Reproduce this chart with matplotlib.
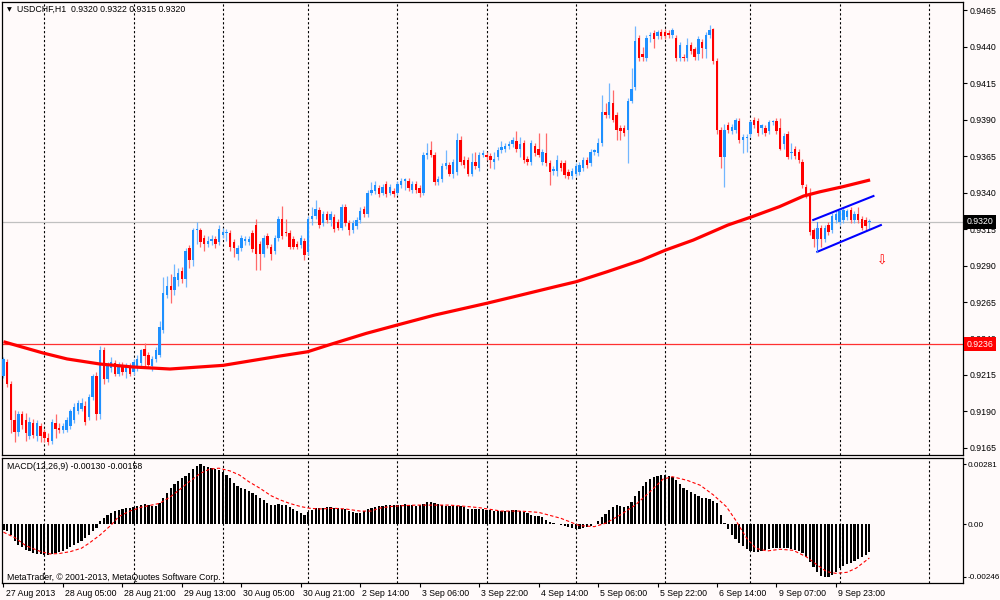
import matplotlib
matplotlib.use("Agg")
import matplotlib.pyplot as plt
import numpy as np
from matplotlib.transforms import ScaledTranslation, blended_transform_factory

plt.rcParams['font.family'] = ['Liberation Sans', 'DejaVu Sans']
plt.rcParams['font.size'] = 6.3

symbol = "USDCHF,H1"

# hourly candles, prices in pips (x 0.0001)
opens = [
    9214, 9224, 9209, 9184, 9176, 9188, 9184, 9173, 9182, 9173,
    9180, 9176, 9172, 9170, 9182, 9179, 9177, 9177, 9180, 9184,
    9190, 9192, 9194, 9186, 9200, 9214, 9188, 9232, 9212, 9220,
    9223, 9216, 9222, 9217, 9221, 9217, 9220, 9223, 9233, 9229,
    9221, 9226, 9229, 9246, 9270, 9276, 9273, 9280, 9286, 9281,
    9302, 9294, 9314, 9314, 9309, 9305, 9307, 9308, 9306, 9311,
    9312, 9312, 9306, 9298, 9302, 9307, 9306, 9312, 9318, 9305,
    9298, 9310, 9303, 9300, 9309, 9322, 9313, 9312, 9308, 9305,
    9304, 9307, 9299, 9322, 9324, 9328, 9319, 9325, 9321, 9323,
    9320, 9316, 9330, 9319, 9314, 9317, 9321, 9329, 9325, 9340,
    9341, 9343, 9340, 9346, 9340, 9341, 9340, 9345, 9348, 9348,
    9342, 9346, 9343, 9340, 9366, 9369, 9366, 9347, 9349, 9358,
    9359, 9353, 9354, 9376, 9362, 9362, 9353, 9361, 9357, 9366,
    9366, 9365, 9361, 9364, 9369, 9370, 9372, 9373, 9375, 9370,
    9374, 9363, 9361, 9372, 9370, 9361, 9367, 9360, 9355, 9355,
    9360, 9360, 9354, 9351, 9353, 9354, 9357, 9362, 9360, 9368,
    9367, 9374, 9395, 9393, 9401, 9393, 9384, 9384, 9383, 9403,
    9412, 9446, 9435, 9432, 9447, 9449, 9447, 9450, 9450, 9449,
    9448, 9446, 9432, 9433, 9432, 9441, 9438, 9435, 9443, 9438,
    9448, 9452, 9430, 9383, 9364, 9386, 9382, 9383, 9389, 9376,
    9377, 9380, 9390, 9389, 9384, 9384, 9382, 9388, 9389, 9384,
    9373, 9380, 9367, 9370, 9368, 9361, 9344, 9339, 9314, 9308,
    9316, 9308, 9318, 9314, 9321, 9320, 9321, 9323, 9328, 9321,
    9325, 9322, 9321, 9320,
]
closes = [
    9226, 9209, 9184, 9176, 9188, 9181, 9175, 9183, 9174, 9182,
    9173, 9172, 9169, 9183, 9178, 9177, 9180, 9184, 9190, 9193,
    9196, 9196, 9183, 9200, 9214, 9188, 9232, 9212, 9222, 9224,
    9216, 9222, 9217, 9221, 9216, 9224, 9226, 9232, 9228, 9222,
    9226, 9232, 9248, 9271, 9276, 9273, 9282, 9285, 9281, 9300,
    9294, 9314, 9315, 9306, 9305, 9307, 9308, 9305, 9315, 9313,
    9313, 9303, 9302, 9302, 9309, 9308, 9308, 9301, 9298, 9298,
    9309, 9304, 9298, 9309, 9322, 9310, 9312, 9303, 9303, 9303,
    9309, 9297, 9322, 9324, 9329, 9318, 9325, 9321, 9325, 9315,
    9316, 9330, 9319, 9314, 9319, 9321, 9327, 9325, 9340, 9342,
    9345, 9339, 9344, 9339, 9344, 9339, 9346, 9348, 9349, 9343,
    9346, 9342, 9340, 9366, 9367, 9366, 9347, 9349, 9358, 9360,
    9353, 9361, 9376, 9361, 9359, 9353, 9361, 9358, 9366, 9367,
    9364, 9362, 9363, 9369, 9371, 9372, 9373, 9376, 9370, 9373,
    9362, 9361, 9374, 9367, 9366, 9368, 9360, 9354, 9356, 9362,
    9357, 9352, 9351, 9355, 9358, 9359, 9362, 9359, 9368, 9369,
    9374, 9395, 9393, 9402, 9390, 9383, 9382, 9381, 9403, 9411,
    9444, 9432, 9433, 9446, 9448, 9445, 9450, 9447, 9447, 9448,
    9451, 9432, 9441, 9432, 9441, 9437, 9433, 9445, 9439, 9448,
    9451, 9430, 9383, 9364, 9383, 9383, 9385, 9390, 9376, 9378,
    9378, 9388, 9386, 9381, 9386, 9381, 9388, 9389, 9382, 9370,
    9379, 9364, 9368, 9365, 9362, 9345, 9338, 9313, 9308, 9316,
    9308, 9316, 9313, 9324, 9325, 9327, 9328, 9327, 9321, 9325,
    9321, 9316, 9317, 9320,
]
highs = [
    9227, 9226, 9211, 9191, 9190, 9190, 9189, 9186, 9185, 9184,
    9182, 9178, 9175, 9185, 9188, 9182, 9182, 9186, 9192, 9196,
    9198, 9199, 9197, 9202, 9216, 9217, 9235, 9234, 9224, 9227,
    9225, 9224, 9224, 9223, 9223, 9226, 9229, 9233, 9237, 9231,
    9228, 9234, 9252, 9282, 9283, 9284, 9291, 9288, 9289, 9302,
    9304, 9316, 9320, 9316, 9311, 9310, 9311, 9310, 9318, 9316,
    9315, 9314, 9308, 9304, 9311, 9310, 9310, 9314, 9322, 9307,
    9311, 9312, 9305, 9311, 9324, 9331, 9322, 9314, 9310, 9307,
    9311, 9309, 9324, 9330, 9335, 9330, 9327, 9327, 9327, 9325,
    9322, 9332, 9332, 9321, 9321, 9323, 9330, 9331, 9342, 9347,
    9348, 9345, 9346, 9348, 9346, 9343, 9348, 9350, 9350, 9350,
    9348, 9348, 9345, 9368, 9374, 9375, 9368, 9351, 9360, 9369,
    9361, 9363, 9381, 9379, 9365, 9364, 9367, 9368, 9368, 9369,
    9368, 9367, 9368, 9371, 9375, 9374, 9375, 9378, 9382, 9378,
    9376, 9365, 9376, 9374, 9381, 9370, 9381, 9362, 9358, 9366,
    9362, 9362, 9356, 9357, 9360, 9361, 9364, 9364, 9370, 9370,
    9377, 9407, 9401, 9415, 9410, 9395, 9386, 9386, 9405, 9425,
    9454, 9448, 9440, 9448, 9450, 9451, 9451, 9452, 9452, 9451,
    9453, 9448, 9443, 9435, 9446, 9443, 9440, 9447, 9445, 9450,
    9455, 9453, 9432, 9385, 9387, 9388, 9387, 9391, 9391, 9380,
    9380, 9390, 9392, 9391, 9387, 9386, 9390, 9390, 9391, 9391,
    9381, 9382, 9374, 9372, 9370, 9363, 9346, 9343, 9316, 9318,
    9318, 9318, 9320, 9326, 9327, 9329, 9330, 9329, 9330, 9327,
    9330, 9324, 9323, 9322,
]
lows = [
    9213, 9207, 9175, 9169, 9173, 9178, 9170, 9171, 9172, 9170,
    9169, 9169, 9167, 9168, 9172, 9175, 9175, 9176, 9178, 9182,
    9188, 9190, 9181, 9184, 9198, 9184, 9185, 9209, 9210, 9217,
    9214, 9214, 9215, 9213, 9214, 9215, 9218, 9221, 9220, 9220,
    9218, 9224, 9227, 9244, 9268, 9264, 9270, 9276, 9278, 9275,
    9288, 9290, 9305, 9303, 9300, 9303, 9304, 9302, 9304, 9309,
    9307, 9300, 9296, 9294, 9300, 9304, 9304, 9299, 9287, 9287,
    9296, 9302, 9294, 9298, 9307, 9308, 9310, 9301, 9301, 9301,
    9302, 9294, 9297, 9318, 9322, 9316, 9317, 9319, 9317, 9313,
    9314, 9314, 9317, 9311, 9312, 9315, 9319, 9323, 9323, 9338,
    9339, 9337, 9338, 9337, 9338, 9337, 9338, 9343, 9342, 9341,
    9340, 9340, 9337, 9338, 9363, 9364, 9345, 9345, 9347, 9356,
    9351, 9350, 9352, 9359, 9357, 9351, 9351, 9356, 9355, 9364,
    9362, 9357, 9356, 9362, 9367, 9368, 9370, 9371, 9368, 9364,
    9360, 9359, 9359, 9365, 9364, 9359, 9358, 9345, 9352, 9351,
    9355, 9350, 9349, 9349, 9351, 9352, 9355, 9357, 9358, 9366,
    9365, 9372, 9391, 9391, 9388, 9376, 9376, 9379, 9360, 9401,
    9410, 9430, 9430, 9430, 9443, 9439, 9445, 9445, 9445, 9446,
    9446, 9430, 9430, 9430, 9430, 9435, 9431, 9431, 9432, 9432,
    9446, 9428, 9380, 9357, 9344, 9381, 9380, 9381, 9374, 9367,
    9368, 9378, 9384, 9379, 9380, 9379, 9380, 9386, 9380, 9369,
    9370, 9363, 9363, 9363, 9360, 9343, 9336, 9311, 9303, 9304,
    9303, 9306, 9311, 9312, 9319, 9318, 9319, 9321, 9319, 9319,
    9319, 9314, 9314, 9315,
]

# MACD(12,26,9) histogram per bar, x 0.001
macd_hist = [
    -0.25, -0.33, -0.50, -0.80, -0.95, -1.07, -1.19, -1.27, -1.33, -1.37,
    -1.40, -1.43, -1.42, -1.39, -1.35, -1.29, -1.23, -1.17, -1.08, -0.99,
    -0.88, -0.76, -0.62, -0.49, -0.33, -0.18, 0.15, 0.31, 0.43, 0.53,
    0.62, 0.68, 0.72, 0.76, 0.78, 0.82, 0.86, 0.91, 0.95, 0.89,
    0.87, 0.88, 0.99, 1.22, 1.47, 1.70, 1.89, 2.04, 2.15, 2.25,
    2.41, 2.60, 2.72, 2.81, 2.74, 2.69, 2.64, 2.60, 2.54, 2.45,
    2.30, 2.15, 1.94, 1.81, 1.72, 1.64, 1.56, 1.47, 1.37, 1.25,
    1.16, 1.02, 0.90, 0.90, 0.93, 0.92, 0.89, 0.82, 0.73, 0.64,
    0.54, 0.45, 0.58, 0.66, 0.75, 0.78, 0.78, 0.79, 0.81, 0.76,
    0.75, 0.74, 0.71, 0.61, 0.56, 0.53, 0.54, 0.63, 0.71, 0.77,
    0.81, 0.86, 0.88, 0.90, 0.90, 0.90, 0.91, 0.92, 0.95, 0.92,
    0.89, 0.87, 0.90, 0.97, 1.03, 1.05, 0.98, 0.93, 0.89, 0.87,
    0.87, 0.87, 0.87, 0.85, 0.79, 0.74, 0.72, 0.72, 0.72, 0.71,
    0.67, 0.65, 0.63, 0.62, 0.62, 0.62, 0.64, 0.67, 0.67, 0.62,
    0.57, 0.51, 0.45, 0.41, 0.38, 0.33, 0.22, 0.12, 0.04, 0.00,
    -0.05, -0.09, -0.14, -0.19, -0.21, -0.21, -0.17, -0.11, -0.07, 0.01,
    0.15, 0.35, 0.50, 0.66, 0.82, 0.89, 0.85, 0.83, 0.87, 1.04,
    1.32, 1.58, 1.80, 1.97, 2.12, 2.22, 2.27, 2.31, 2.30, 2.26,
    2.21, 2.07, 1.88, 1.72, 1.61, 1.52, 1.42, 1.32, 1.25, 1.23,
    1.18, 1.10, 0.98, 0.45, 0.06, -0.22, -0.49, -0.70, -0.87, -1.01,
    -1.16, -1.25, -1.28, -1.28, -1.25, -1.22, -1.17, -1.12, -1.09, -1.09,
    -1.10, -1.13, -1.16, -1.19, -1.24, -1.34, -1.53, -1.78, -2.02, -2.24,
    -2.41, -2.46, -2.45, -2.37, -2.23, -2.07, -1.95, -1.88, -1.80, -1.72,
    -1.62, -1.52, -1.42, -1.30,
]

# signal line, read at these bar positions (x 0.001)
signal_bar = [0, 3, 6, 10, 12.5, 15, 18, 21, 23, 26, 29, 31, 34, 37, 39, 42, 45, 47.5,
              50, 53, 55.5, 58, 61, 63.5, 66, 69, 72, 74.5, 77, 80, 82.5, 85, 89, 92,
              96, 99, 101, 104, 107, 111, 116, 120, 125, 128, 134, 139, 144, 150, 155,
              159, 162, 166, 170, 174, 177.5, 180, 184, 187.5, 191, 194.5, 197, 200,
              202.5, 205.5, 209, 212.5, 216, 219, 221.5, 224, 227, 229.5, 233]
signal_val = [-0.37, -0.62, -1.0, -1.28, -1.39, -1.37, -1.28, -1.12, -0.89, -0.5, -0.03,
              0.36, 0.62, 0.8, 0.87, 0.98, 1.3, 1.64, 2.0, 2.39, 2.59, 2.63, 2.5, 2.31,
              2.0, 1.69, 1.34, 1.14, 0.98, 0.83, 0.75, 0.72, 0.75, 0.72, 0.62, 0.62,
              0.75, 0.83, 0.87, 0.9, 0.9, 0.9, 0.83, 0.78, 0.62, 0.62, 0.56, 0.28, -0.06,
              -0.11, 0.05, 0.44, 0.9, 1.53, 2.12, 2.23, 2.06, 1.83, 1.38, 0.83, 0.2,
              -0.66, -1.13, -1.25, -1.17, -1.22, -1.52, -1.91, -2.22, -2.3, -2.25,
              -2.05, -1.58]

# 200 MA, read at these bar positions (pips)
ma_bar = [0, 10.6, 17.1, 26, 34.8, 44.8, 59.1, 74.4, 81.8, 88.3, 97.6, 105.9, 116.1,
          130, 139.3, 148.5, 154.1, 162.4, 171.7, 178.2, 185.6, 194.9, 201.4, 208.8,
          215.3, 219.7, 225.9, 233.2]
ma_pips = [9237.8, 9230.1, 9226.0, 9222.5, 9220.5, 9219.1, 9221.6, 9228.0, 9230.9,
           9236.2, 9243.5, 9249.2, 9256.1, 9264.1, 9269.8, 9275.5, 9278.9, 9285.7,
           9293.7, 9300.6, 9307.4, 9317.7, 9323.4, 9330.3, 9337.6, 9340.5, 9344.0,
           9348.6]

day_starts = [11, 35, 59, 82, 106, 130, 154, 178, 201, 225, 249]
time_label_bars = [0, 16, 32, 48, 64, 80, 96, 112, 128, 144, 160, 176, 192, 208, 224]
time_labels = ['27 Aug 2013', '28 Aug 05:00', '28 Aug 21:00', '29 Aug 13:00',
               '30 Aug 05:00', '30 Aug 21:00', '2 Sep 14:00', '3 Sep 06:00',
               '3 Sep 22:00', '4 Sep 14:00', '5 Sep 06:00', '5 Sep 22:00',
               '6 Sep 14:00', '9 Sep 07:00', '9 Sep 23:00']
price_ticks = [9165, 9190, 9215, 9240, 9265, 9290, 9315, 9340, 9365, 9390, 9415, 9440, 9465]
level_line = 9236
channel_upper = ([217.9, 234.1], [9321.2, 9337.6])
channel_lower = ([219.0, 236.1], [9299.4, 9317.7])
sell_arrow = (236.5, 9293)

o = np.array(opens) * 1e-4
c = np.array(closes) * 1e-4
h = np.array(highs) * 1e-4
l = np.array(lows) * 1e-4
hist = np.array(macd_hist) * 1e-3
sig = np.array(signal_val) * 1e-3
x = np.arange(len(c))

bg = '#FFFAFA'
bull, bear = '#1E90FF', '#FF0000'

fig = plt.figure(figsize=(10, 6), dpi=100, facecolor=bg)
ax = fig.add_axes([0.002, 0.24167, 0.961, 0.755], facecolor=bg)
axm = fig.add_axes([0.002, 0.02833, 0.961, 0.20833], facecolor=bg)

# grid: midnight of each day
for b in day_starts:
    for a in (ax, axm):
        a.axvline(b, color='black', lw=0.8, ls=(0, (2, 2)), zorder=1)

ax.axhline(level_line * 1e-4, color='#FF3030', lw=0.9, zorder=1.5)
ax.axhline(c[-1], color='#C0C0C0', lw=0.9, zorder=1.5)

# candles
up = c >= o
ax.vlines(x, l, h, colors=np.where(up, '#72B6FF', '#FF6A6A'), lw=0.9, zorder=2)
ax.bar(x, np.maximum(np.abs(c - o), 0.00006), bottom=np.minimum(o, c), width=0.65,
       color=np.where(up, bull, bear), zorder=3)

ax.plot(ma_bar, np.array(ma_pips) * 1e-4, color='#FF0000', lw=2.3,
        solid_capstyle='butt', solid_joinstyle='round', zorder=4)

ax.plot(channel_upper[0], np.array(channel_upper[1]) * 1e-4, color='#0000FF', lw=1.5, zorder=5)
ax.plot(channel_lower[0], np.array(channel_lower[1]) * 1e-4, color='#0000FF', lw=1.5, zorder=5)
ax.plot([channel_lower[0][0]] * 2, [channel_lower[1][0] * 1e-4, c[-1]],
        color='#3F86FF', lw=0.8, zorder=5)
ax.text(sell_arrow[0], sell_arrow[1] * 1e-4, '\u21e9', color='#FF0000', fontsize=9,
        ha='center', va='center', family='DejaVu Sans', zorder=6)

ax.set_xlim(-0.40, 258.2)
ax.set_ylim(0.91602, 0.94705)
ax.set_xticks([])
ax.yaxis.tick_right()
ax.set_yticks(np.array(price_ticks) * 1e-4)
ax.set_yticklabels([f'{v * 1e-4:.4f}' for v in price_ticks])
ax.tick_params(axis='y', direction='out', length=3, width=0.8, pad=1.5)

trans = blended_transform_factory(ax.transAxes, ax.transData)
ax.text(1.0035, c[-1], f'{c[-1]:.4f}', transform=trans, ha='left', va='center',
        color='white', bbox=dict(boxstyle='square,pad=0.3', fc='black', ec='none'),
        zorder=10, clip_on=False)
ax.text(1.0035, level_line * 1e-4, f'{level_line * 1e-4:.4f}', transform=trans,
        ha='left', va='center', color='white',
        bbox=dict(boxstyle='square,pad=0.3', fc='#FF0000', ec='none'),
        zorder=10, clip_on=False)

# MACD panel
axm.bar(x, hist, width=0.6, color='black', zorder=2)
axm.plot(signal_bar, sig, color='#FF0000', lw=0.8, ls=(0, (3, 2)), zorder=3)
axm.set_xlim(-0.40, 258.2)
axm.set_ylim(-0.002752, 0.003108)
axm.yaxis.tick_right()
macd_ticks = [0.00281, 0.0, -0.00246]
axm.set_yticks(macd_ticks)
axm.set_yticklabels(['0.00281', '0.00', '-0.00246'])
axm.tick_params(axis='y', direction='out', length=2.5, width=0.8, pad=0.8, labelsize=5.9)
axm.set_xticks(time_label_bars)
axm.set_xticklabels(time_labels, ha='left')
axm.tick_params(axis='x', direction='out', length=3, width=0.8, pad=1.5)
for lbl in axm.get_xticklabels():
    lbl.set_transform(lbl.get_transform() + ScaledTranslation(1.5 / 72, 0, fig.dpi_scale_trans))

axm.text(0.005, 0.93, f'MACD(12,26,9) {hist[-1]:.5f} {sig[-1]:.5f}',
         transform=axm.transAxes, ha='left', va='center')
axm.text(0.005, 0.045, 'MetaTrader, \u00a9 2001-2013, MetaQuotes Software Corp.',
         transform=axm.transAxes, ha='left', va='center')

for a in (ax, axm):
    for s in a.spines.values():
        s.set_color('black')
        s.set_linewidth(0.9)

fig.text(0.0065, 1 - 9.5 / 600, '\u25bc', fontsize=4.5, va='center', family='DejaVu Sans')
fig.text(0.017, 1 - 9.5 / 600,
         f'{symbol}  {o[-1]:.4f} {h[-1]:.4f} {l[-1]:.4f} {c[-1]:.4f}', va='center')

fig.savefig('out.png', dpi=100, facecolor=bg)
